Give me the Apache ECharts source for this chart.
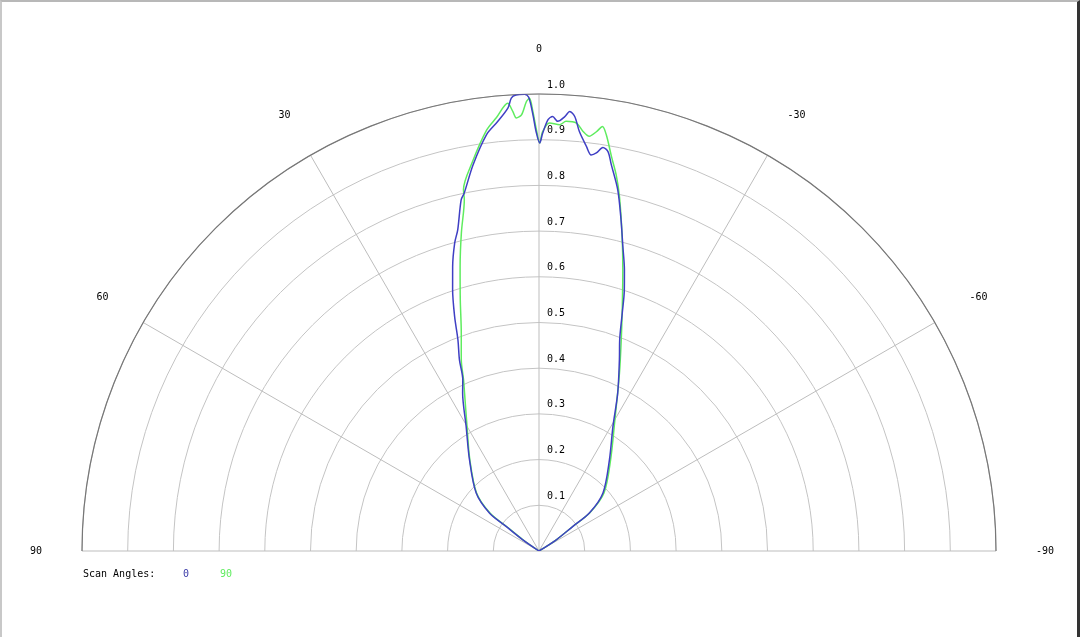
<!DOCTYPE html>
<html>
<head>
<meta charset="utf-8">
<script src="https://cdn.jsdelivr.net/npm/echarts@6/dist/echarts.min.js"></script>
<style>
  html, body { margin: 0; padding: 0; background: #fff; }
  #chart { width: 1080px; height: 637px; box-sizing: border-box;
           border-top: 2px solid #b8b8b8; border-left: 2px solid #c8c8c8; border-right: 3px solid #333; }
</style>
</head>
<body>
<div id="chart"></div>
<script>
// angle ticks (degrees, positive to the left) and radial ticks
const angleTicks = [-90, -60, -30, 0, 30, 60, 90];
const radiusTicks = [0.1, 0.2, 0.3, 0.4, 0.5, 0.6, 0.7, 0.8, 0.9, 1.0];
const legendNames = ['0', '90'];

// scan angle 0 : [radius, angle]
const scan0 = [
  [0, -57], [0.045, -57], [0.091, -54], [0.138, -53], [0.189, -47.8], [0.252, -37.7],
  [0.317, -30.7], [0.386, -26.5], [0.454, -22.8], [0.495, -20.9], [0.551, -19.3],
  [0.601, -18.1], [0.643, -16.9], [0.691, -15.4], [0.747, -13.9], [0.809, -12.3],
  [0.860, -10.6], [0.887, -9.8], [0.894, -9.0], [0.880, -8.2], [0.874, -7.5],
  [0.891, -6.7], [0.922, -5.5], [0.954, -4.7], [0.964, -4.0], [0.952, -3.4],
  [0.941, -2.5], [0.951, -1.8], [0.944, -1.2], [0.914, -0.5], [0.893, -0.1],
  [0.918, 0.4], [0.955, 0.8], [0.993, 1.3], [1.000, 1.8], [0.999, 2.9],
  [0.993, 3.5], [0.972, 4.0], [0.944, 5.5], [0.918, 7.2], [0.857, 9.7],
  [0.800, 11.8], [0.787, 12.5], [0.725, 14.2], [0.699, 15.3], [0.650, 16.9],
  [0.602, 18.3], [0.545, 19.8], [0.495, 21.0], [0.453, 22.6], [0.410, 24.0],
  [0.384, 25.8], [0.316, 30.3], [0.251, 37.3], [0.187, 47.3], [0.136, 52.6],
  [0.090, 53.2], [0.043, 55.3], [0, 55]
];

// scan angle 90 : [radius, angle]
const scan90 = [
  [0, -57], [0.045, -57], [0.092, -54], [0.140, -53], [0.191, -48.2], [0.254, -38.1],
  [0.326, -30.5], [0.428, -24.3], [0.503, -21.0], [0.572, -18.6], [0.642, -16.6],
  [0.712, -14.8], [0.795, -12.8], [0.840, -11.6], [0.878, -10.4], [0.922, -9.2],
  [0.939, -8.5], [0.926, -7.8], [0.914, -6.9], [0.923, -6.0], [0.940, -5.0],
  [0.942, -3.6], [0.934, -2.8], [0.937, -1.4], [0.918, -0.5], [0.893, -0.1],
  [0.926, 0.4], [0.962, 0.8], [0.991, 1.2], [0.984, 1.6], [0.955, 2.3],
  [0.949, 3.0], [0.963, 3.4], [0.982, 4.0], [0.953, 5.6], [0.928, 7.1],
  [0.864, 9.7], [0.808, 11.8], [0.786, 12.0], [0.717, 13.7], [0.646, 15.5],
  [0.576, 17.4], [0.507, 19.6], [0.452, 22.1], [0.409, 23.8], [0.381, 25.3],
  [0.315, 30.0], [0.251, 37.1], [0.186, 47.2], [0.135, 52.3], [0.089, 53.0],
  [0.043, 55.0], [0, 55]
];

const blue = '#3f3fc4';
const green = '#5fec5f';
const font = 'DejaVu Sans Mono';

const chart = echarts.init(document.getElementById('chart'));
const center = [537, 549];
const R = 457;

chart.setOption({
  animation: false,
  title: {
    text: 'Scan Angles:',
    left: 76, top: 562,
    textStyle: { fontFamily: font, fontSize: 10, fontWeight: 'normal', color: '#000' }
  },
  legend: {
    left: 170, top: 562,
    itemWidth: 0, itemHeight: 0, itemGap: 25,
    data: [
      { name: legendNames[0], textStyle: { color: '#3a3aa8' } },
      { name: legendNames[1], textStyle: { color: green } }
    ],
    textStyle: { fontFamily: font, fontSize: 10 }
  },
  polar: [
    { center: center, radius: R },
    { center: center, radius: R }
  ],
  angleAxis: [
    {
      polarIndex: 0,
      type: 'value',
      min: -90, max: 90, interval: 30,
      startAngle: 0, endAngle: 180, clockwise: false,
      axisLine: { lineStyle: { color: '#777', width: 1.2 } },
      axisTick: { show: false },
      axisLabel: {
        margin: 40,
        fontFamily: font, fontSize: 10, color: '#000',
        formatter: v => angleTicks.includes(v) ? String(v) : ''
      },
      splitLine: { show: true, lineStyle: { color: '#bdbdbd', width: 1 } }
    },
    {
      polarIndex: 1,
      type: 'value',
      min: 0, max: 360,
      startAngle: 90,
      show: false
    }
  ],
  radiusAxis: [
    {
      polarIndex: 0,
      type: 'value',
      min: 0, max: 1, interval: 0.1,
      axisLine: { show: false },
      axisTick: { show: false },
      axisLabel: { show: false },
      splitLine: { show: true, lineStyle: { color: '#c4c4c4', width: 1 } }
    },
    {
      polarIndex: 1,
      type: 'value',
      min: 0, max: 1, interval: 0.1,
      axisLine: { show: false },
      axisTick: { show: false },
      splitLine: { show: false },
      axisLabel: {
        margin: -8, align: 'left', verticalAlign: 'bottom',
        padding: [0, 0, 4, 0],
        fontFamily: font, fontSize: 10, color: '#000',
        formatter: v => {
          const t = radiusTicks.find(x => Math.abs(x - v) < 1e-6);
          return t ? t.toFixed(1) : '';
        }
      }
    }
  ],
  series: [
    {
      name: legendNames[0], type: 'line', coordinateSystem: 'polar', polarIndex: 0,
      data: scan0, symbol: 'none', smooth: 0.3,
      lineStyle: { color: blue, width: 1.5 }, itemStyle: { color: blue }, z: 3
    },
    {
      name: legendNames[1], type: 'line', coordinateSystem: 'polar', polarIndex: 0,
      data: scan90, symbol: 'none', smooth: 0.3,
      lineStyle: { color: green, width: 1.5 }, itemStyle: { color: green }, z: 2
    }
  ]
});
</script>
</body>
</html>
